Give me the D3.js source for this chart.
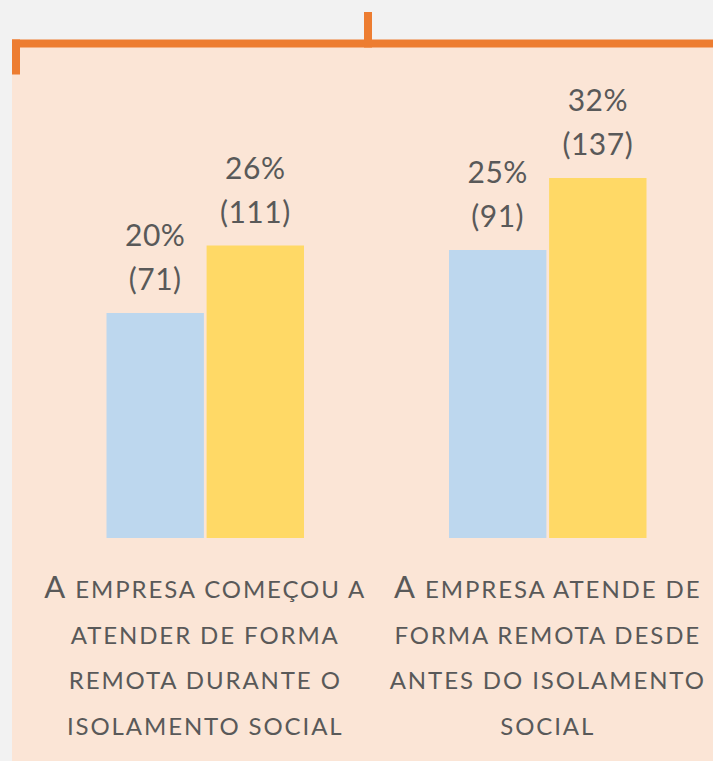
<!DOCTYPE html>
<html>
<head>
<meta charset="utf-8">
<script src="https://cdn.jsdelivr.net/npm/d3@7"></script>
<style>
  html, body { margin: 0; padding: 0; background: #f2f2f2; }
  svg { display: block; }
</style>
</head>
<body>
<div id="chart"></div>
<script>
// Data
const categories = ["remota_durante", "remota_antes"];
const categoryLines = [
    ["A empresa começou a", "atender de forma", "remota durante o", "isolamento social"],
    ["A empresa atende de", "forma remota desde", "antes do isolamento", "social"]
];
const series = ["blue", "yellow"];
const blueValues = [20, 25.6];     // bar height, % of group
const yellowValues = [26, 32];
const bluePctLabels = ["20%", "25%"];
const yellowPctLabels = ["26%", "32%"];
const blueCounts = [71, 91];
const yellowCounts = [111, 137];

const colors = { blue: "#bdd7ee", yellow: "#ffd966" };
const textColor = "#595959";
const orange = "#ed7d31";

const width = 713;
const height = 761;

// build rows for the bars
const rows = [];
categories.forEach((c, i) => {
    rows.push({ cat: c, key: "blue", value: blueValues[i], pct: bluePctLabels[i], count: blueCounts[i] });
    rows.push({ cat: c, key: "yellow", value: yellowValues[i], pct: yellowPctLabels[i], count: yellowCounts[i] });
});

const svg = d3.select("#chart").append("svg")
    .attr("width", width)
    .attr("height", height)
    .style("font-family", "Lato, 'Open Sans', sans-serif");

// peach panel
svg.append("rect")
    .attr("x", 12).attr("y", 40)
    .attr("width", width - 12).attr("height", height - 40)
    .attr("fill", "#fbe5d6");

// orange bracket on top
const bracket = svg.append("g").attr("fill", orange);
bracket.append("rect").attr("x", 12).attr("y", 39.5).attr("width", width - 12).attr("height", 8);
bracket.append("rect").attr("x", 12).attr("y", 39.5).attr("width", 8).attr("height", 35);
bracket.append("rect").attr("x", 364).attr("y", 12).attr("width", 8).attr("height", 35.5);

// scales
const x0 = d3.scaleBand()
    .domain(categories)
    .range([106.5, 646.5])
    .paddingInner(0.4234);

const x1 = d3.scaleBand()
    .domain(series)
    .range([0, x0.bandwidth()])
    .paddingInner(0.027);

const y = d3.scaleLinear()
    .domain([0, 32])
    .range([538, 178]);

// bars
svg.append("g")
    .selectAll("rect")
    .data(rows)
    .join("rect")
    .attr("x", d => x0(d.cat) + x1(d.key))
    .attr("y", d => y(d.value))
    .attr("width", x1.bandwidth())
    .attr("height", d => y(0) - y(d.value))
    .attr("fill", d => colors[d.key]);

// value labels (two lines)
const labels = svg.append("g")
    .attr("fill", textColor)
    .attr("font-size", 30)
    .attr("letter-spacing", 0.5)
    .attr("text-anchor", "middle")
    .selectAll("g")
    .data(rows)
    .join("g")
    .attr("transform", d => `translate(${x0(d.cat) + x1(d.key) + x1.bandwidth() / 2},${y(d.value)})`);

labels.append("text")
    .attr("y", -67)
    .text(d => d.pct);

labels.append("text")
    .attr("y", -23)
    .text(d => `(${d.count})`);

// category labels in small caps
const catLabels = svg.append("g")
    .attr("fill", textColor)
    .attr("text-anchor", "middle")
    .selectAll("text")
    .data(categories)
    .join("text")
    .attr("x", (d, i) => x0(d) + x0.bandwidth() / 2)
    .attr("y", 598);

catLabels.each(function (d, i) {
    const t = d3.select(this);
    categoryLines[i].forEach((line, j) => {
        if (j === 0) {
            t.append("tspan")
                .attr("x", x0(d) + x0.bandwidth() / 2)
                .attr("dy", 0)
                .attr("font-size", 31)
                .attr("letter-spacing", 1.9)
                .text(line[0]);
            t.append("tspan")
                .attr("font-size", 24)
                .attr("letter-spacing", 1.9)
                .text(line.slice(1).toUpperCase());
        } else {
            t.append("tspan")
                .attr("x", x0(d) + x0.bandwidth() / 2)
                .attr("dy", 45.5)
                .attr("font-size", 24)
                .attr("letter-spacing", 1.9)
                .text(line.toUpperCase());
        }
    });
});
</script>
</body>
</html>
